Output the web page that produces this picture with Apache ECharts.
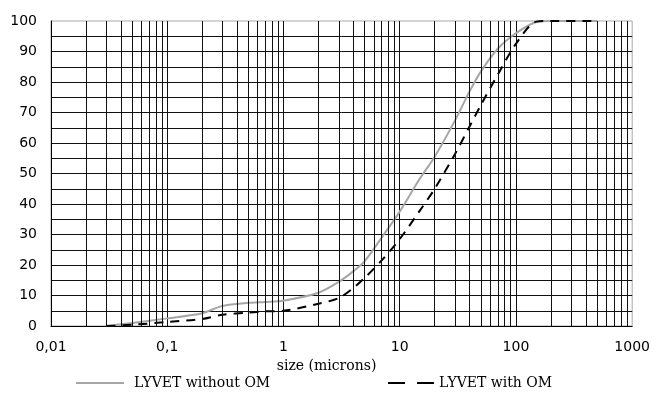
<!DOCTYPE html>
<html>
<head>
<meta charset="utf-8">
<script src="https://cdn.jsdelivr.net/npm/echarts@6/dist/echarts.min.js"></script>
<style>
  html, body { margin: 0; padding: 0; background: #fff; }
  #chart { width: 653px; height: 406px; }
</style>
</head>
<body>
<div id="chart"></div>
<script>
// particle size (microns) and cumulative %
const sizes = [0.03, 0.05, 0.1, 0.2, 0.3, 0.5, 0.7, 1, 2, 3, 4, 5, 7, 10, 15, 20, 30, 40, 50, 70, 100, 150, 200, 500];
const withoutOM = [0, 1.0, 2.5, 4.2, 6.6, 7.6, 7.9, 8.3, 10.9, 14.5, 18, 21.3, 29, 37.5, 48.5, 55.5, 67.5, 77, 83.5, 91, 96, 99.7, 100, 100];
const withOM = [0, 0.4, 1.3, 2.3, 3.7, 4.4, 4.8, 5.0, 7.3, 9.2, 12.5, 15.8, 21.5, 28.5, 38, 45, 56.5, 65.5, 72.5, 82.5, 92.5, 99.8, 100, 100];
const decades = [0.01, 0.1, 1, 10, 100];

// log grid lines 2..9 inside each decade
const minorLines = [];
decades.forEach(function (d) {
  for (let k = 2; k <= 9; k++) minorLines.push(+(d * k).toPrecision(3));
});

const serif = 'DejaVu Serif';
const sans = 'DejaVu Sans';
const noSymbol = { color: 'transparent', borderColor: 'transparent', borderWidth: 0, opacity: 0 };

const chart = echarts.init(document.getElementById('chart'), null, { renderer: 'canvas' });

const option = {
  animation: false,
  backgroundColor: '#fff',
  grid: {
    left: 51, right: 20, top: 21, bottom: 80,
    show: true, borderColor: '#a8a8a8', borderWidth: 1, backgroundColor: 'transparent'
  },
  legend: [
    {
      data: ['LYVET without OM'],
      left: 75, top: 376, padding: 0,
      itemWidth: 48, itemHeight: 14,
      itemStyle: noSymbol,
      textStyle: { fontFamily: serif, fontSize: 14, color: '#000', padding: [0, 0, 0, 5] }
    },
    {
      data: ['LYVET with OM'],
      left: 387, top: 376, padding: 0,
      itemWidth: 46, itemHeight: 14,
      itemStyle: noSymbol,
      lineStyle: { type: [17, 12], width: 2 },
      textStyle: { fontFamily: serif, fontSize: 14, color: '#000', padding: [0, 0, 0, 0] }
    }
  ],
  xAxis: {
    type: 'log',
    logBase: 10,
    min: 0.01,
    max: 1000,
    name: 'size (microns)',
    nameLocation: 'middle',
    nameGap: 30,
    nameTextStyle: { fontFamily: serif, fontSize: 14, color: '#000', padding: [0, 30, 0, 0] },
    axisLine: { show: true, lineStyle: { color: '#000', width: 1 } },
    axisTick: { show: false },
    axisLabel: {
      margin: 14,
      fontFamily: sans, fontSize: 14, color: '#000',
      formatter: function (v) { return String(v).replace('.', ','); }
    },
    splitLine: { show: true, showMinLine: false, showMaxLine: false, lineStyle: { color: '#111', width: 1 } }
  },
  yAxis: {
    type: 'value',
    min: 0,
    max: 100,
    interval: 10,
    axisLine: { show: true, lineStyle: { color: '#000', width: 1 } },
    axisTick: { show: false },
    minorTick: { show: false, splitNumber: 2 },
    minorSplitLine: { show: true, lineStyle: { color: '#111', width: 1 } },
    axisLabel: { margin: 14, fontFamily: sans, fontSize: 14, color: '#000' },
    splitLine: { show: true, showMinLine: false, showMaxLine: false, lineStyle: { color: '#111', width: 1 } }
  },
  series: [
    {
      name: 'grid',
      type: 'line',
      data: [],
      silent: true,
      z: 1,
      markLine: {
        silent: true,
        symbol: 'none',
        label: { show: false },
        emphasis: { disabled: true },
        lineStyle: { color: '#111', width: 1, type: 'solid' },
        data: minorLines.map(function (v) { return { xAxis: v }; })
      }
    },
    {
      name: 'LYVET without OM',
      type: 'line',
      z: 3,
      data: sizes.map(function (s, i) { return [s, withoutOM[i]]; }),
      showSymbol: false,
      symbol: 'none',
      smooth: 0.3,
      lineStyle: { color: '#a6a6a6', width: 2 },
      itemStyle: { color: '#a6a6a6' }
    },
    {
      name: 'LYVET with OM',
      type: 'line',
      z: 4,
      data: sizes.map(function (s, i) { return [s, withOM[i]]; }),
      showSymbol: false,
      symbol: 'none',
      smooth: 0.3,
      lineStyle: { color: '#000', width: 2, type: [9, 7] },
      itemStyle: { color: '#000' }
    }
  ]
};

chart.setOption(option);
window.addEventListener('resize', function () {
  chart.resize();
});
</script>
</body>
</html>
